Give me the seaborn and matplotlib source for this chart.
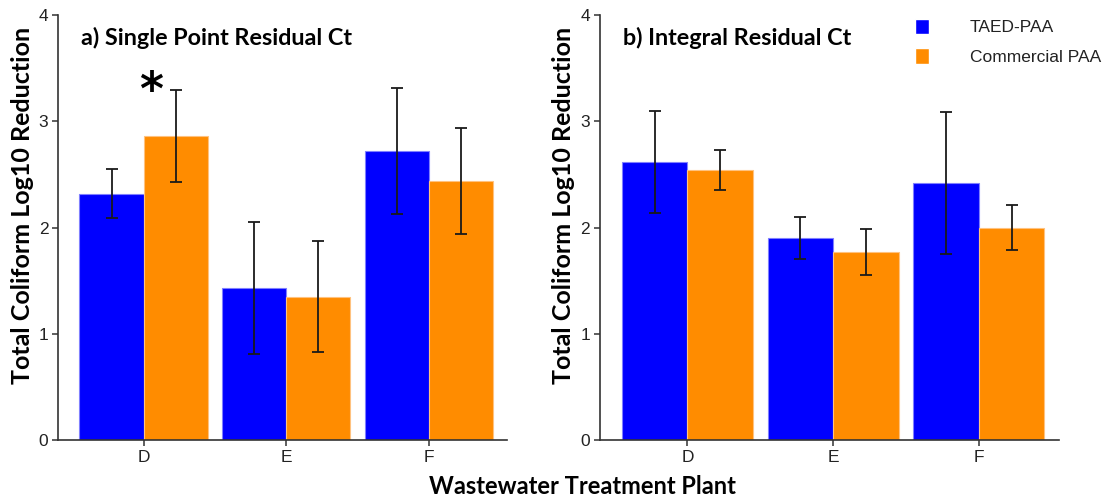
import numpy as np
import pandas as pd
import matplotlib
matplotlib.use("Agg")
import matplotlib.pyplot as plt
import seaborn as sns

# Wastewater treatment plants and disinfectant treatments
plants = ["D", "E", "F"]
treatments = ["TAED-PAA", "Commercial PAA"]

# a) Single point residual Ct: mean log10 reduction and error half-widths
single_taed = [2.32, 1.43, 2.72]
single_comm = [2.86, 1.35, 2.44]
single_taed_err = [0.23, 0.62, 0.59]
single_comm_err = [0.43, 0.52, 0.50]

# b) Integral residual Ct
integral_taed = [2.62, 1.90, 2.42]
integral_comm = [2.54, 1.77, 2.00]
integral_taed_err = [0.48, 0.20, 0.67]
integral_comm_err = [0.19, 0.22, 0.21]

yticks = [0, 1, 2, 3, 4]

palette = {"TAED-PAA": "#0000FF", "Commercial PAA": "#FF8C00"}
edge = {"TAED-PAA": "#7F7FFF", "Commercial PAA": "#FFC27F"}

sns.set_theme(style="white")
plt.rcParams["font.family"] = ["Liberation Sans", "DejaVu Sans"]

fig = plt.figure(figsize=(11.1, 5.0), dpi=100)
ax_a = fig.add_axes([0.0523, 0.12, 0.4045, 0.85])
ax_b = fig.add_axes([0.5405, 0.12, 0.4135, 0.85])


def panel(ax, taed, comm, taed_err, comm_err, title, legend):
    df = pd.DataFrame({
        "plant": plants * 2,
        "treatment": [treatments[0]] * 3 + [treatments[1]] * 3,
        "value": list(taed) + list(comm),
    })
    sns.barplot(data=df, x="plant", y="value", hue="treatment",
                order=plants, hue_order=treatments, palette=palette,
                width=0.9, errorbar=None, saturation=1, ax=ax,
                legend=legend)
    errs = [taed_err, comm_err]
    for cont, err, tr in zip(ax.containers, errs, treatments):
        xs, ys = [], []
        for bar in cont:
            bar.set_edgecolor(edge[tr])
            bar.set_linewidth(0.8)
            xs.append(bar.get_x() + bar.get_width() / 2)
            ys.append(bar.get_height())
        ax.errorbar(xs, ys, yerr=err, fmt="none", ecolor="#1a1a1a",
                    elinewidth=1.3, capsize=4.5, capthick=1.3, zorder=5)
    ax.set_ylim(0, 4)
    ax.set_yticks(yticks)
    ax.set_xlim(-0.6, 2.55)
    ax.set_xlabel("")
    ax.set_ylabel("Total Coliform Log10 Reduction", family=["Lato", "DejaVu Sans"],
                  fontweight="bold", fontsize=18, color="black")
    ax.yaxis.set_label_coords(-0.054, 0.553)
    for side in ["top", "right"]:
        ax.spines[side].set_visible(False)
    for side in ["left", "bottom"]:
        ax.spines[side].set_color("#333333")
        ax.spines[side].set_linewidth(1.2)
    ax.tick_params(axis="both", which="major", direction="out", length=4,
                   width=1.1, color="#333333", labelsize=12.5, labelcolor="#222222",
                   left=True, bottom=True, pad=3)
    ax.text(0.05, 0.945, title, transform=ax.transAxes, ha="left", va="center",
            family=["Lato", "DejaVu Sans"], fontweight="bold", fontsize=16.8,
            color="black")


panel(ax_a, single_taed, single_comm, single_taed_err, single_comm_err,
      "a) Single Point Residual Ct", False)
panel(ax_b, integral_taed, integral_comm, integral_taed_err, integral_comm_err,
      "b) Integral Residual Ct", True)

# Significant difference marker for plant D, single point Ct
ax_a.text(0.05, 3.27, "*", ha="center", va="center", fontsize=33,
          fontweight="bold", color="black", family=["DejaVu Sans"])

leg = ax_b.legend(loc="upper left", bbox_to_anchor=(0.652, 1.028), frameon=False,
                  fontsize=12.5, handlelength=0.8, handleheight=1.0,
                  handletextpad=2.35, labelspacing=0.75)
for t in leg.get_texts():
    t.set_color("#222222")

fig.text(0.525, 0.027, "Wastewater Treatment Plant", ha="center", va="center",
         family=["Lato", "DejaVu Sans"], fontweight="bold", fontsize=17,
         color="black")

fig.savefig("out.png", dpi=100)
